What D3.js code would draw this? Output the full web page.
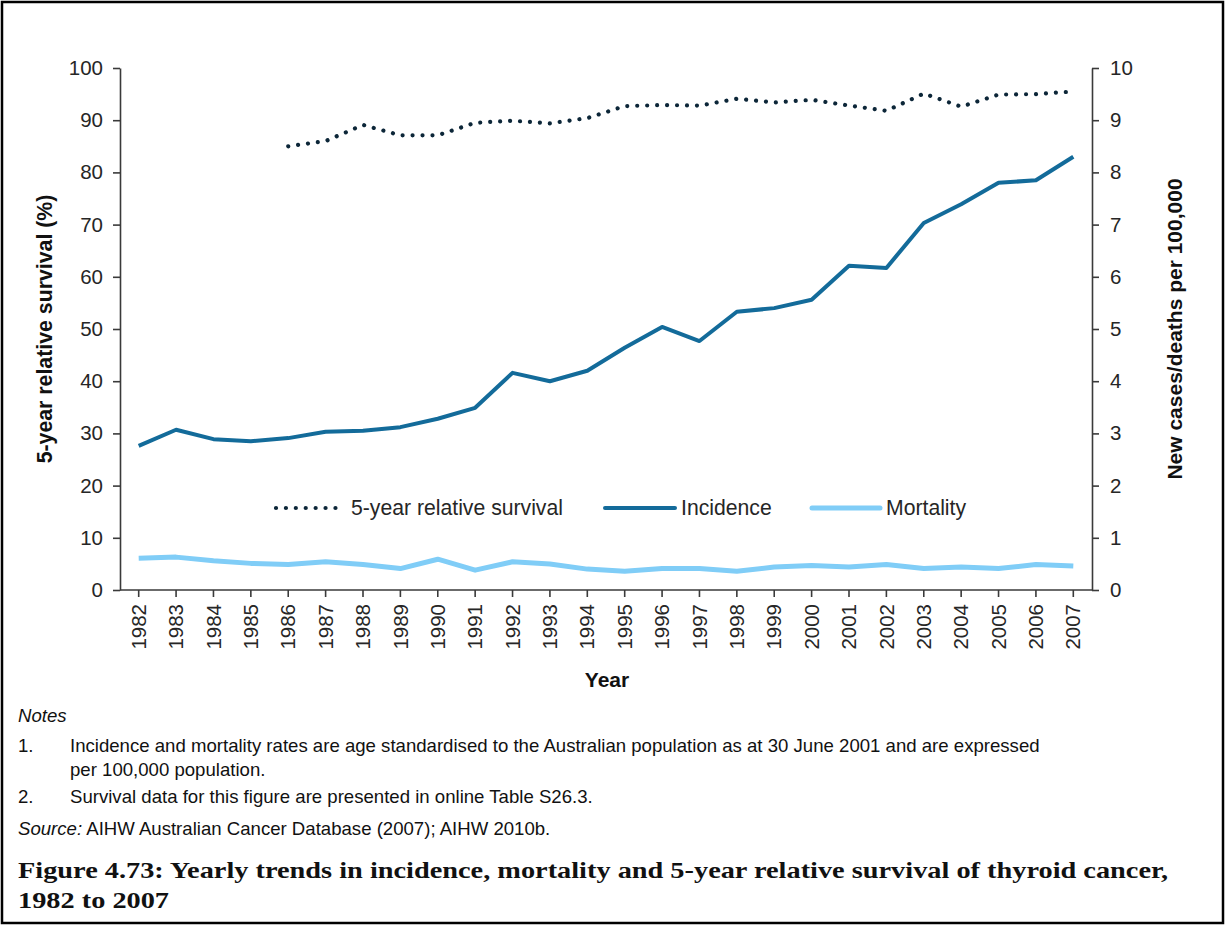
<!DOCTYPE html>
<html><head><meta charset="utf-8">
<script src="https://cdn.jsdelivr.net/npm/d3@7"></script>
<style>body{margin:0;background:#fff}svg{display:block}</style>
</head><body>
<svg id="c" width="1226" height="927"></svg>
<script>
const years = [1982,1983,1984,1985,1986,1987,1988,1989,1990,1991,1992,1993,1994,1995,1996,1997,1998,1999,2000,2001,2002,2003,2004,2005,2006,2007];
const survival = [null,null,null,null,85.0,86.0,89.1,87.1,87.1,89.5,89.9,89.4,90.4,92.7,92.9,92.8,94.1,93.4,93.9,92.8,91.8,95.1,92.6,94.9,95.0,95.5];
const incidence = [2.76,3.07,2.89,2.85,2.91,3.03,3.05,3.12,3.28,3.49,4.16,4.00,4.20,4.64,5.04,4.77,5.33,5.40,5.56,6.21,6.17,7.03,7.39,7.80,7.85,8.30];
const mortality = [0.61,0.63,0.56,0.51,0.49,0.54,0.49,0.41,0.59,0.38,0.54,0.50,0.40,0.36,0.41,0.41,0.36,0.44,0.47,0.44,0.49,0.41,0.44,0.41,0.49,0.46];
const leftTicks = [0,10,20,30,40,50,60,70,80,90,100];
const rightTicks = [0,1,2,3,4,5,6,7,8,9,10];
const seriesNames = ["5-year relative survival","Incidence","Mortality"];
const notes = [
  ["1.","Incidence and mortality rates are age standardised to the Australian population as at 30 June 2001 and are expressed"],
  ["","per 100,000 population."],
  ["2.","Survival data for this figure are presented in online Table S26.3."]
];
const titleLines = ["Figure 4.73: Yearly trends in incidence, mortality and 5-year relative survival of thyroid cancer,","1982 to 2007"];

const C = {surv:"#0c2638", inc:"#136b9a", mort:"#80cdf7", axis:"#3a3a3a", text:"#262626"};
const svg = d3.select("#c");
const sans = "'Liberation Sans', Arial, sans-serif";

svg.append("rect").attr("x",2).attr("y",2).attr("width",1221).attr("height",921)
  .attr("fill","#fff").attr("stroke","#000").attr("stroke-width",2.5);

const L=120, R=1092, T=68, B=590;
const x = d3.scaleBand().domain(years).range([L,R]);
const xc = d => x(d)+x.bandwidth()/2;
const yL = d3.scaleLinear().domain([0,100]).range([B,T]);
const yR = d3.scaleLinear().domain([0,10]).range([B,T]);

// axes
const gl = svg.append("g").attr("transform",`translate(${L},0)`)
  .call(d3.axisLeft(yL).tickValues(leftTicks).tickSize(7).tickPadding(10).tickSizeOuter(0));
const gr = svg.append("g").attr("transform",`translate(${R},0)`)
  .call(d3.axisRight(yR).tickValues(rightTicks).tickSize(7).tickPadding(11).tickSizeOuter(0));
const gb = svg.append("g").attr("transform",`translate(0,${B})`)
  .call(d3.axisBottom(x).tickSize(7).tickSizeOuter(0).tickPadding(0));
[gl,gr,gb].forEach(g=>{
  g.selectAll("path,line").attr("stroke",C.axis).attr("stroke-width",1.6);
  g.selectAll("text").attr("font-family",sans).attr("font-size",20.5).attr("fill",C.text);
});
gb.select(".domain").attr("d",`M${L},0H${R}`);
gb.selectAll(".tick text").attr("transform","rotate(-90)").attr("text-anchor","end")
  .attr("x",-14).attr("y",0).attr("dy","0.35em");

// axis titles
svg.append("text").attr("transform",`translate(52,${(T+B)/2}) rotate(-90)`).attr("text-anchor","middle")
  .attr("font-family",sans).attr("font-weight","bold").attr("font-size",21.3).attr("fill","#111")
  .text("5-year relative survival (%)");
svg.append("text").attr("transform",`translate(1182,${(T+B)/2}) rotate(-90)`).attr("text-anchor","middle")
  .attr("font-family",sans).attr("font-weight","bold").attr("font-size",21).attr("fill","#111")
  .text("New cases/deaths per 100,000");
svg.append("text").attr("x",607).attr("y",687).attr("text-anchor","middle")
  .attr("font-family",sans).attr("font-weight","bold").attr("font-size",21).attr("fill","#111").text("Year");

// lines
const lineL = d3.line().defined(d=>d[1]!=null).x(d=>xc(d[0])).y(d=>yL(d[1]));
const lineR = d3.line().x(d=>xc(d[0])).y(d=>yR(d[1]));
svg.append("path").datum(years.map((y,i)=>[y,mortality[i]])).attr("d",lineR)
  .attr("fill","none").attr("stroke",C.mort).attr("stroke-width",5).attr("stroke-linejoin","round");
svg.append("path").datum(years.map((y,i)=>[y,incidence[i]])).attr("d",lineR)
  .attr("fill","none").attr("stroke",C.inc).attr("stroke-width",4).attr("stroke-linejoin","round");
svg.append("path").datum(years.map((y,i)=>[y,survival[i]])).attr("d",lineL)
  .attr("fill","none").attr("stroke",C.surv).attr("stroke-width",4.2)
  .attr("stroke-linecap","round").attr("stroke-dasharray","0.01 9.95");

// legend
const lg = svg.append("g").attr("font-family",sans).attr("font-size",21.2).attr("fill",C.text);
const LY = 508;
lg.append("line").attr("x1",276).attr("x2",336).attr("y1",LY).attr("y2",LY)
  .attr("stroke",C.surv).attr("stroke-width",4.2).attr("stroke-linecap","round").attr("stroke-dasharray","0.01 9.9");
lg.append("text").attr("x",351).attr("y",LY+7).text(seriesNames[0]);
lg.append("line").attr("x1",605).attr("x2",675).attr("y1",LY).attr("y2",LY)
  .attr("stroke",C.inc).attr("stroke-width",4).attr("stroke-linecap","round");
lg.append("text").attr("x",681).attr("y",LY+7).text(seriesNames[1]);
lg.append("line").attr("x1",812).attr("x2",880).attr("y1",LY).attr("y2",LY)
  .attr("stroke",C.mort).attr("stroke-width",5).attr("stroke-linecap","round");
lg.append("text").attr("x",886).attr("y",LY+7).text(seriesNames[2]);

// notes
const ng = svg.append("g").attr("font-family",sans).attr("font-size",18.6).attr("fill","#111");
ng.append("text").attr("x",18).attr("y",722).attr("font-style","italic").text("Notes");
const ny = [752,776,803];
notes.forEach((n,i)=>{
  ng.append("text").attr("x",18).attr("y",ny[i]).text(n[0]);
  ng.append("text").attr("x",70).attr("y",ny[i]).text(n[1]);
});
const src = ng.append("text").attr("x",18).attr("y",835);
src.append("tspan").attr("font-style","italic").text("Source:");
src.append("tspan").text(" AIHW Australian Cancer Database (2007); AIHW 2010b.");

// title
const tg = svg.append("g").attr("font-family","'Liberation Serif','Times New Roman',serif").attr("font-weight","bold")
  .attr("font-size",23.5).attr("fill","#111");
const t1 = tg.append("text").attr("x",18).attr("y",878).text(titleLines[0]);
const t2 = tg.append("text").attr("x",18).attr("y",908).text(titleLines[1]);
const n1 = t1.node().getComputedTextLength();
const ratio = 1150 / n1;
t1.attr("textLength",1150).attr("lengthAdjust","spacingAndGlyphs");
t2.attr("textLength",t2.node().getComputedTextLength()*ratio).attr("lengthAdjust","spacingAndGlyphs");
</script>
</body></html>
